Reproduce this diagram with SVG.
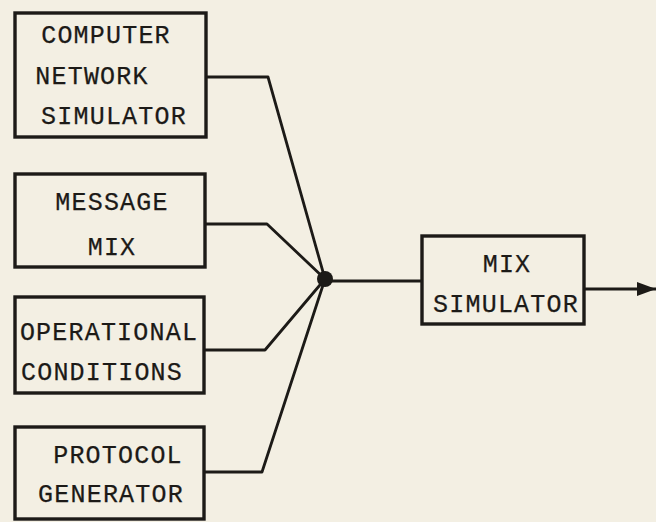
<svg xmlns="http://www.w3.org/2000/svg" width="656" height="522" viewBox="0 0 656 522">
  <style>
    .box { fill: none; stroke: #1c1a17; stroke-width: 3.4; }
    .wire { fill: none; stroke: #1c1a17; stroke-width: 2.8; stroke-linejoin: round; }
    .lbl { font-family: "Liberation Mono", "Courier New", monospace; font-size: 25px; letter-spacing: 1.2px; fill: #1c1a17; text-anchor: middle; dominant-baseline: central; stroke: #1c1a17; stroke-width: 0.25; }
  </style>
  <defs>
    <marker id="arrow" markerWidth="19" markerHeight="14" refX="19" refY="7" orient="auto" markerUnits="userSpaceOnUse">
      <path d="M0,0 L19,7 L0,14 Z" fill="#1c1a17"/>
    </marker>
  </defs>
  <rect width="656" height="522" fill="#f3efe3"/>

  <g id="computer-network-simulator">
    <rect class="box" x="15" y="13" width="191" height="124"/>
    <text class="lbl" x="106" y="36">COMPUTER</text>
    <text class="lbl" x="92" y="77">NETWORK</text>
    <text class="lbl" x="114" y="117">SIMULATOR</text>
  </g>

  <g id="message-mix">
    <rect class="box" x="15" y="174" width="190" height="93"/>
    <text class="lbl" x="112" y="203">MESSAGE</text>
    <text class="lbl" x="112" y="248">MIX</text>
  </g>

  <g id="operational-conditions">
    <rect class="box" x="15" y="297" width="189" height="96"/>
    <text class="lbl" x="109" y="333">OPERATIONAL</text>
    <text class="lbl" x="102" y="373">CONDITIONS</text>
  </g>

  <g id="protocol-generator">
    <rect class="box" x="15" y="427" width="189" height="92"/>
    <text class="lbl" x="118" y="456">PROTOCOL</text>
    <text class="lbl" x="111" y="495">GENERATOR</text>
  </g>

  <g id="mix-simulator">
    <rect class="box" x="422" y="236" width="162" height="88"/>
    <text class="lbl" x="507" y="265">MIX</text>
    <text class="lbl" x="506" y="305">SIMULATOR</text>
  </g>

  <g id="connectors">
    <polyline class="wire" points="206,77 268,77 325,279"/>
    <polyline class="wire" points="205,224 267,224 325,279"/>
    <polyline class="wire" points="204,350 265,350 325,279"/>
    <polyline class="wire" points="204,472 262,472 325,279"/>
    <line class="wire" x1="325" y1="281" x2="422" y2="281"/>
    <circle cx="325" cy="279" r="8" fill="#1c1a17"/>
    <line class="wire" x1="584" y1="289" x2="656" y2="289" marker-end="url(#arrow)"/>
  </g>
</svg>
